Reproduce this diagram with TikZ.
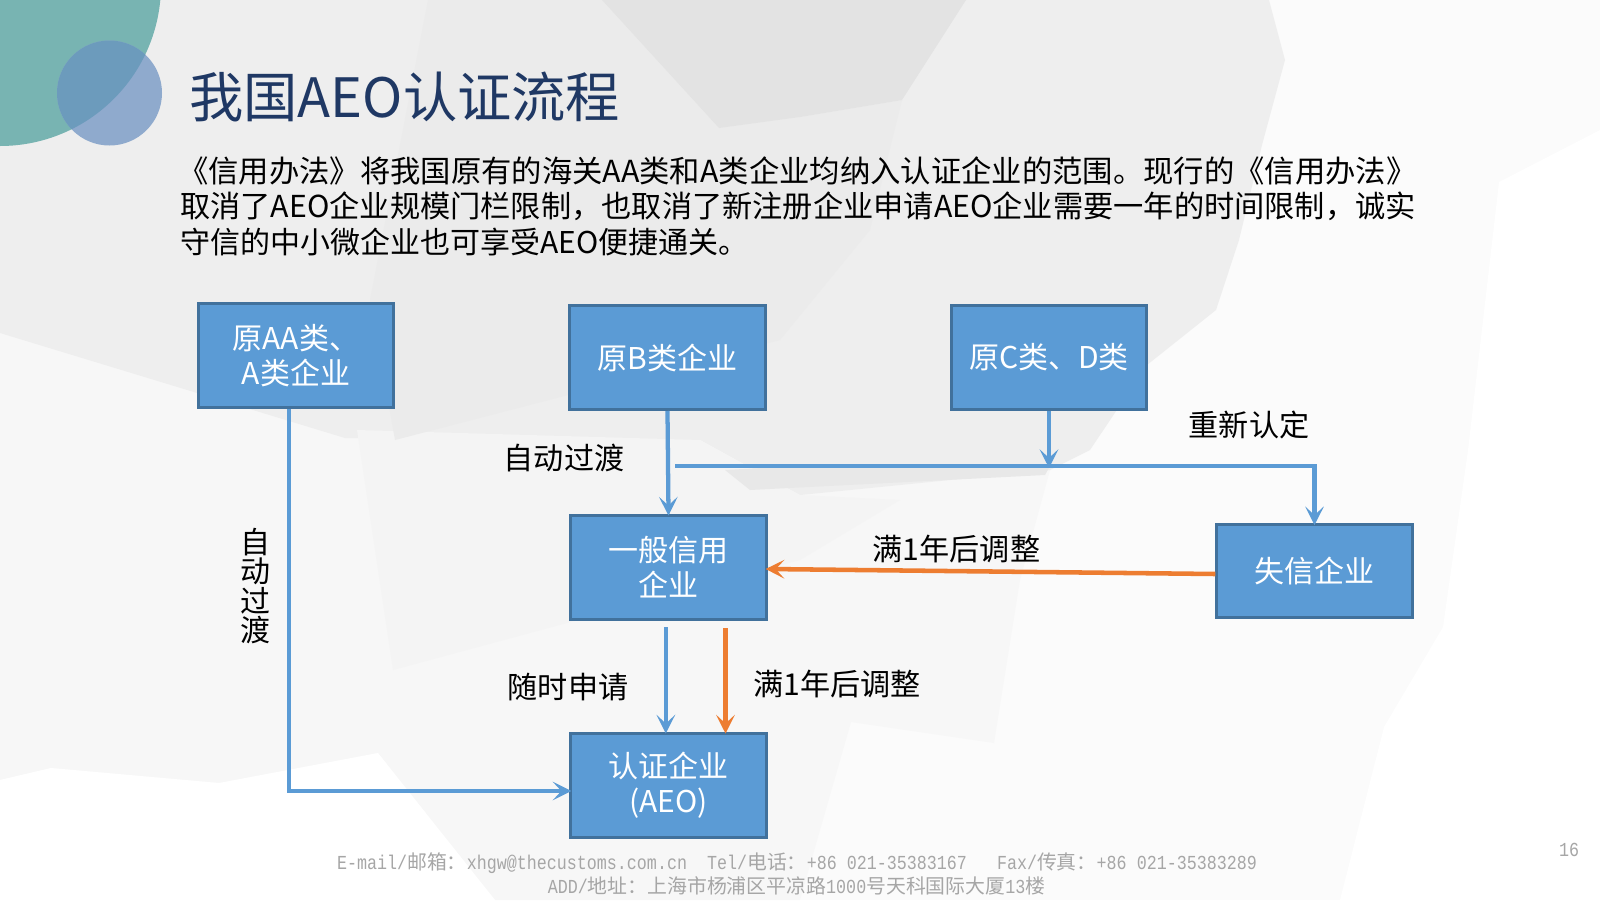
\documentclass[tikz,border=0pt]{standalone}
\usepackage{fontspec}
\setmainfont{Noto Sans CJK SC}
\newfontfamily\footlatin[FakeStretch=0.84]{Liberation Mono}
\usetikzlibrary{arrows.meta}
\definecolor{boxfill}{HTML}{5B9BD5}
\definecolor{boxline}{HTML}{41719C}
\definecolor{flowblue}{HTML}{5B9BD5}
\definecolor{floworange}{HTML}{ED7D31}
\definecolor{titleblue}{HTML}{1F3864}
\definecolor{footgrey}{HTML}{A6A6A6}
\definecolor{tealshape}{HTML}{78B4B2}
\definecolor{circleblue}{HTML}{8FAACD}
\definecolor{overlapblue}{HTML}{6C9BBC}
\newcommand{\ftl}[1]{{\footlatin #1}}
\tikzset{
  x=0.75pt,y=-0.75pt,
  bg/.style={fill=#1,draw=none},
  flowbox/.style={draw=boxline,fill=boxfill,line width=2.25pt,minimum width=146.5pt,minimum height=78pt,inner sep=0pt,text=white,align=center,font=\fontsize{22.5pt}{26.5pt}\selectfont},
  lab/.style={text=black,inner sep=0pt,font=\fontsize{22.6pt}{26.5pt}\selectfont},
  bodyline/.style={text=black,inner sep=0pt,anchor=west},
  foot/.style={text=footgrey,inner sep=0pt,font=\fontsize{14.9pt}{17pt}\selectfont},
  flow/.style={draw=flowblue,line width=3.2pt,shorten >=-1.5pt,-{Stealth[length=14pt,width=14pt,inset=6.5pt]}},
  floworg/.style={draw=floworange,line width=3.4pt,shorten >=-1.5pt,-{Stealth[length=14pt,width=14pt,inset=6.5pt]}}
}
\begin{document}
\begin{tikzpicture}
\useasboundingbox (0,0) rectangle (1600,900);
% background
\fill[bg=black!1.5] (0,0) rectangle (1600,900);
\fill[bg=white] (1600,130)--(1499,182)--(1468,450)--(1443,627)--(1384,727)--(1340,900)--(1600,900)--cycle;
\fill[bg=black!3] (0,333)--(345,430)--(780,470)--(1050,470)--(1020,580)--(994,743)--(851,722)--(800,900)--(495,900)--(378,753)--(219,783)--(51,768)--(0,780)--cycle;
\fill[bg=white] (0,780)--(51,768)--(219,783)--(378,753)--(495,900)--(0,900)--cycle;
\fill[bg=black!6.5] (0,0)--(1269,0)--(1285,60)--(1262,145)--(1239,240)--(1216,310)--(1147,365)--(1090,450)--(1050,470)--(800,495)--(700,440)--(345,438)--(0,333)--cycle;
\fill[bg=black!4.5] (357,430)--(700,440)--(800,495)--(900,500)--(800,560)--(393,670)--cycle;
\fill[bg=black!8] (428,0)--(602,0)--(719,128)--(800,117)--(902,100)--(870,230)--(780,340)--(395,440)--(370,300)--cycle;
\fill[bg=black!11] (602,0)--(966,0)--(902,100)--(800,117)--(719,128)--cycle;
\fill[bg=black!9] (725,470)--(800,466)--(1050,466)--(1045,475)--(750,490)--cycle;
% decoration
\fill[tealshape] (0,-15) circle [radius=161];
\fill[circleblue] (109.5,93) circle [radius=52.5];
\begin{scope}
\clip (0,-15) circle [radius=161];
\fill[overlapblue] (109.5,93) circle [radius=52.5];
\end{scope}
% title and text
\node[anchor=west,inner sep=0pt,text=titleblue,font=\fontsize{40.7pt}{46pt}\selectfont] (title) at (189,97) {我国AEO认证流程};
\node[bodyline,font=\fontsize{22.75pt}{26.5pt}\selectfont] (b1) at (178,171) {《信用办法》将我国原有的海关AA类和A类企业均纳入认证企业的范围。现行的《信用办法》};
\node[bodyline,font=\fontsize{22.67pt}{26.5pt}\selectfont] (b2) at (180,206) {取消了AEO企业规模门栏限制，也取消了新注册企业申请AEO企业需要一年的时间限制，诚实};
\node[bodyline,font=\fontsize{22.5pt}{26.5pt}\selectfont] (b3) at (180,242) {守信的中小微企业也可享受AEO便捷通关。};
% boxes
\node[flowbox] (aa) at (296,355.5) {原AA类、\\A类企业};
\node[flowbox] (bb) at (667.5,357.5) {原B类企业};
\node[flowbox] (cd) at (1049,357.5) {原C类、D类};
\node[flowbox] (gen) at (668.5,567) {一般信用\\企业};
\node[flowbox,minimum height=69.5pt] (lost) at (1314.5,571) {失信企业};
\node[flowbox] (aeo) at (668.5,785) {认证企业\\(AEO)};
% connectors
\coordinate (branch) at (675,466);
\draw[flow] (bb.south) -- (gen.north);
\draw[flow] (cd.south) -- (cd.south |- branch);
\draw[flow] (branch) -| (lost.north);
\draw[flow] ([xshift=-5.25pt]aa.south) |- ([yshift=-4.5pt]aeo.west);
\draw[floworg] ([yshift=-2.25pt]lost.west) -- ([yshift=-1.5pt]gen.east);
\draw[flow] ([xshift=-2pt]gen.south |- 0,627) -- ([xshift=-2pt]aeo.north);
\draw[floworg] ([xshift=42.75pt]gen.south |- 0,628) -- ([xshift=42.75pt]aeo.north);
% labels
\node[lab] (l1) at (564,458) {自动过渡};
\node[lab] (l2) at (1249,425) {重新认定};
\node[lab] (l3) at (956.5,549) {满1年后调整};
\node[lab] (l4) at (568,687) {随时申请};
\node[lab] (l5) at (837,684) {满1年后调整};
\node[lab,align=center,font=\fontsize{22.5pt}{22pt}\selectfont] (l6) at (255.5,586) {自\\动\\过\\渡};
% footer
\node[foot] (f1) at (797,863) {\ftl{E-mail/}邮箱：\ftl{xhgw@thecustoms.com.cn\ \ Tel/}电话：\ftl{+86 021-35383167\ \ \ Fax/}传真：\ftl{+86 021-35383289}};
\node[foot] (f2) at (796.5,886) {\ftl{ADD/}地址：上海市杨浦区平凉路\ftl{1000}号天科国际大厦\ftl{13}楼};
\node[foot] (pg) at (1569,850) {\ftl{16}};
\end{tikzpicture}
\end{document}
